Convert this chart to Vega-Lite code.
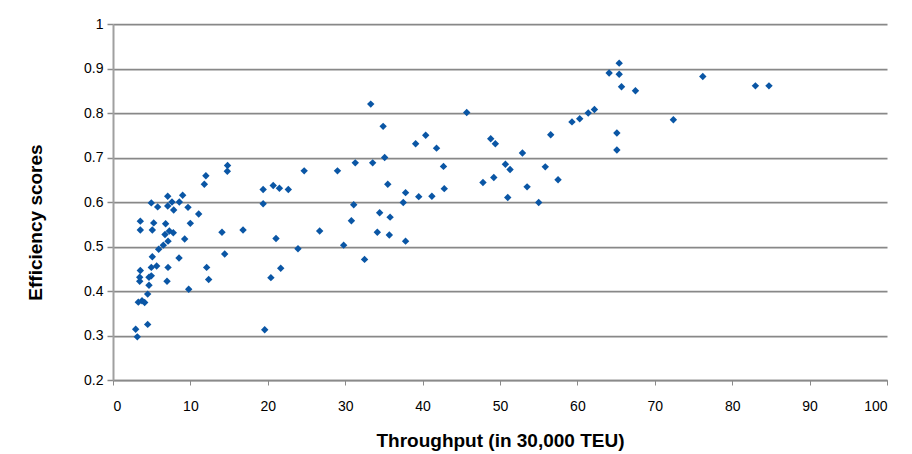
{
  "$schema": "https://vega.github.io/schema/vega-lite/v6.json",
  "width": 774,
  "height": 356,
  "autosize": {"type": "none"},
  "padding": {"left": 113, "top": 24, "right": 25, "bottom": 74},
  "background": "white",
  "config": {"view": {"stroke": null}, "font": "Liberation Sans"},
  "data": {"values": [
    {"throughput": 2.93, "efficiency": 0.314},
    {"throughput": 3.14, "efficiency": 0.297},
    {"throughput": 4.48, "efficiency": 0.325},
    {"throughput": 3.27, "efficiency": 0.375},
    {"throughput": 3.75, "efficiency": 0.378},
    {"throughput": 4.09, "efficiency": 0.374},
    {"throughput": 4.48, "efficiency": 0.393},
    {"throughput": 9.78, "efficiency": 0.404},
    {"throughput": 4.65, "efficiency": 0.413},
    {"throughput": 3.45, "efficiency": 0.422},
    {"throughput": 6.98, "efficiency": 0.422},
    {"throughput": 12.36, "efficiency": 0.426},
    {"throughput": 3.45, "efficiency": 0.431},
    {"throughput": 4.65, "efficiency": 0.431},
    {"throughput": 4.95, "efficiency": 0.434},
    {"throughput": 3.53, "efficiency": 0.446},
    {"throughput": 4.95, "efficiency": 0.453},
    {"throughput": 5.64, "efficiency": 0.456},
    {"throughput": 7.11, "efficiency": 0.453},
    {"throughput": 12.1, "efficiency": 0.453},
    {"throughput": 5.08, "efficiency": 0.477},
    {"throughput": 8.53, "efficiency": 0.474},
    {"throughput": 5.9, "efficiency": 0.494},
    {"throughput": 6.5, "efficiency": 0.503},
    {"throughput": 7.11, "efficiency": 0.512},
    {"throughput": 9.26, "efficiency": 0.517},
    {"throughput": 6.72, "efficiency": 0.527},
    {"throughput": 7.79, "efficiency": 0.531},
    {"throughput": 7.28, "efficiency": 0.535},
    {"throughput": 5.08, "efficiency": 0.537},
    {"throughput": 3.53, "efficiency": 0.537},
    {"throughput": 3.53, "efficiency": 0.557},
    {"throughput": 5.26, "efficiency": 0.553},
    {"throughput": 6.8, "efficiency": 0.551},
    {"throughput": 9.99, "efficiency": 0.552},
    {"throughput": 11.07, "efficiency": 0.573},
    {"throughput": 9.69, "efficiency": 0.588},
    {"throughput": 7.84, "efficiency": 0.582},
    {"throughput": 5.77, "efficiency": 0.589},
    {"throughput": 7.07, "efficiency": 0.591},
    {"throughput": 4.95, "efficiency": 0.598},
    {"throughput": 7.62, "efficiency": 0.6},
    {"throughput": 8.57, "efficiency": 0.6},
    {"throughput": 7.07, "efficiency": 0.613},
    {"throughput": 9.0, "efficiency": 0.615},
    {"throughput": 11.8, "efficiency": 0.64},
    {"throughput": 12.0, "efficiency": 0.659},
    {"throughput": 14.77, "efficiency": 0.669},
    {"throughput": 14.8, "efficiency": 0.682},
    {"throughput": 14.08, "efficiency": 0.532},
    {"throughput": 14.43, "efficiency": 0.483},
    {"throughput": 16.8, "efficiency": 0.537},
    {"throughput": 19.4, "efficiency": 0.628},
    {"throughput": 19.4, "efficiency": 0.596},
    {"throughput": 20.7, "efficiency": 0.637},
    {"throughput": 21.5, "efficiency": 0.631},
    {"throughput": 22.65, "efficiency": 0.628},
    {"throughput": 24.7, "efficiency": 0.67},
    {"throughput": 21.06, "efficiency": 0.518},
    {"throughput": 23.9, "efficiency": 0.495},
    {"throughput": 21.67, "efficiency": 0.451},
    {"throughput": 20.4, "efficiency": 0.43},
    {"throughput": 19.6, "efficiency": 0.313},
    {"throughput": 26.7, "efficiency": 0.535},
    {"throughput": 29.0, "efficiency": 0.67},
    {"throughput": 29.8, "efficiency": 0.503},
    {"throughput": 30.8, "efficiency": 0.558},
    {"throughput": 31.1, "efficiency": 0.594},
    {"throughput": 31.3, "efficiency": 0.688},
    {"throughput": 32.5, "efficiency": 0.471},
    {"throughput": 33.3, "efficiency": 0.82},
    {"throughput": 33.55, "efficiency": 0.688},
    {"throughput": 34.15, "efficiency": 0.532},
    {"throughput": 34.45, "efficiency": 0.576},
    {"throughput": 34.9, "efficiency": 0.77},
    {"throughput": 35.1, "efficiency": 0.7},
    {"throughput": 35.5, "efficiency": 0.64},
    {"throughput": 35.7, "efficiency": 0.526},
    {"throughput": 35.8, "efficiency": 0.566},
    {"throughput": 37.5, "efficiency": 0.599},
    {"throughput": 37.8, "efficiency": 0.621},
    {"throughput": 37.8, "efficiency": 0.512},
    {"throughput": 39.1, "efficiency": 0.731},
    {"throughput": 39.5, "efficiency": 0.612},
    {"throughput": 40.4, "efficiency": 0.75},
    {"throughput": 41.2, "efficiency": 0.613},
    {"throughput": 41.8, "efficiency": 0.721},
    {"throughput": 42.7, "efficiency": 0.68},
    {"throughput": 42.8, "efficiency": 0.63},
    {"throughput": 45.7, "efficiency": 0.801},
    {"throughput": 47.8, "efficiency": 0.644},
    {"throughput": 48.8, "efficiency": 0.742},
    {"throughput": 49.2, "efficiency": 0.655},
    {"throughput": 49.4, "efficiency": 0.731},
    {"throughput": 50.7, "efficiency": 0.685},
    {"throughput": 51.0, "efficiency": 0.61},
    {"throughput": 51.3, "efficiency": 0.673},
    {"throughput": 52.9, "efficiency": 0.71},
    {"throughput": 53.5, "efficiency": 0.634},
    {"throughput": 55.0, "efficiency": 0.599},
    {"throughput": 55.85, "efficiency": 0.679},
    {"throughput": 56.55, "efficiency": 0.751},
    {"throughput": 57.5, "efficiency": 0.65},
    {"throughput": 59.3, "efficiency": 0.78},
    {"throughput": 60.3, "efficiency": 0.787},
    {"throughput": 61.4, "efficiency": 0.8},
    {"throughput": 62.2, "efficiency": 0.808},
    {"throughput": 64.1, "efficiency": 0.89},
    {"throughput": 65.4, "efficiency": 0.912},
    {"throughput": 65.4, "efficiency": 0.887},
    {"throughput": 65.7, "efficiency": 0.859},
    {"throughput": 67.5, "efficiency": 0.85},
    {"throughput": 65.1, "efficiency": 0.755},
    {"throughput": 65.1, "efficiency": 0.717},
    {"throughput": 72.4, "efficiency": 0.785},
    {"throughput": 76.2, "efficiency": 0.882},
    {"throughput": 83.0, "efficiency": 0.861},
    {"throughput": 84.75, "efficiency": 0.861}
  ]},
  "mark": {"type": "point", "shape": "diamond", "filled": true, "size": 55, "color": "#0A56A5", "opacity": 1},
  "encoding": {
    "x": {
      "field": "throughput", "type": "quantitative",
      "scale": {"domain": [0, 100], "nice": false, "zero": false},
      "axis": {
        "title": "Throughput (in 30,000 TEU)",
        "values": [0, 10, 20, 30, 40, 50, 60, 70, 80, 90, 100],
        "grid": false,
        "domainColor": "#8a8a8a", "domainWidth": 1.5,
        "tickColor": "#8a8a8a", "tickSize": 5, "tickWidth": 1,
        "labelFontSize": 14, "labelColor": "black", "labelPadding": 14,
        "titleFontSize": 19, "titleFontWeight": "bold", "titleColor": "black",
        "titleY": 60, "titleBaseline": "middle"
      }
    },
    "y": {
      "field": "efficiency", "type": "quantitative",
      "scale": {"domain": [0.2, 1], "nice": false, "zero": false},
      "axis": {
        "title": "Efficiency scores",
        "values": [0.2, 0.3, 0.4, 0.5, 0.6, 0.7, 0.8, 0.9, 1],
        "labelExpr": "datum.value == 1 ? '1' : format(datum.value, '.1f')",
        "grid": true, "gridColor": "#888888", "gridWidth": 1.75,
        "domainColor": "#a0a0a0", "domainWidth": 2,
        "tickColor": "#8a8a8a", "tickSize": 6, "tickWidth": 1.5,
        "labelFontSize": 14, "labelColor": "black", "labelPadding": 4,
        "titleFontSize": 19, "titleFontWeight": "bold", "titleColor": "black",
        "titleX": -78, "titleY": 198, "titleAlign": "center", "titleBaseline": "middle", "titleAngle": -90
      }
    }
  }
}
